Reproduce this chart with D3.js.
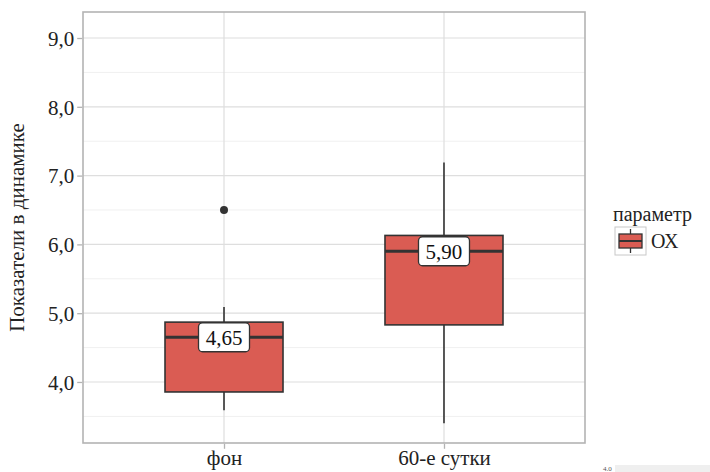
<!DOCTYPE html>
<html><head><meta charset="utf-8">
<script src="https://cdn.jsdelivr.net/npm/d3@7/dist/d3.min.js"></script>
<style>body{margin:0;background:#fff;} svg{display:block;}</style>
</head><body>
<script>
const categories = ["фон", "60-е сутки"];
const lowerWhisker = [3.59, 3.40];
const q1 = [3.855, 4.83];
const medians = [4.65, 5.90];
const q3 = [4.87, 6.13];
const upperWhisker = [5.09, 7.19];
const outliers = [[0, 6.50]];
const medianLabels = ["4,65", "5,90"];
const yTicks = [4, 5, 6, 7, 8, 9];
const yMinor = [3.5, 4.5, 5.5, 6.5, 7.5, 8.5];
const legendTitle = "параметр";
const legendItem = "ОХ";
const yTitle = "Показатели в динамике";

(function () {
// pick an installed serif font if one exists
const candidates = ["Liberation Serif", "Times New Roman", "Tinos", "DejaVu Serif", "Noto Serif", "Times", "FreeSerif", "Nimbus Roman", "Nimbus Roman No9 L"];
const cv = document.createElement("canvas").getContext("2d");
const probe = "Показатели 60-е abcdefgWMi 0123456789";
function w(f) { cv.font = "30px " + f; return cv.measureText(probe).width; }
const baseM = w("monospace"), baseS = w("sans-serif");
let chosen = null;
for (const c of candidates) {
  const a = w(`"${c}", monospace`), b = w(`"${c}", sans-serif`);
  if (a !== baseM && b !== baseS) { chosen = c; break; }
}
const font = chosen ? `"${chosen}", serif` : "serif";

const W = 710, H = 472;
const pL = 83, pR = 585, pT = 12, pB = 443;
const fill = "#da5c53", stroke = "#333333";

const svg = d3.select("body").append("svg").attr("width", W).attr("height", H)
  .style("font-family", font);
const y = d3.scaleLinear().domain([3.113, 9.378]).range([pB, pT]);
const x = d3.scalePoint().domain(categories).range([pL, pR]).padding(0.641);
const boxW = 118;

svg.append("g").selectAll("line").data(yMinor).join("line")
  .attr("x1", pL).attr("x2", pR).attr("y1", d => y(d)).attr("y2", d => y(d))
  .attr("stroke", "#f0f0f0").attr("stroke-width", 1);
svg.append("g").selectAll("line").data(yTicks).join("line")
  .attr("x1", pL).attr("x2", pR).attr("y1", d => y(d)).attr("y2", d => y(d))
  .attr("stroke", "#dedede").attr("stroke-width", 1.2);
svg.append("g").selectAll("line").data(categories).join("line")
  .attr("x1", d => x(d)).attr("x2", d => x(d)).attr("y1", pT).attr("y2", pB)
  .attr("stroke", "#dedede").attr("stroke-width", 1.2);

const data = categories.map((c, i) => ({c, i}));
const g = svg.append("g");
g.selectAll(".wh").data(data).join("line")
  .attr("x1", d => x(d.c)).attr("x2", d => x(d.c))
  .attr("y1", d => y(upperWhisker[d.i])).attr("y2", d => y(lowerWhisker[d.i]))
  .attr("stroke", stroke).attr("stroke-width", 1.6);
g.selectAll(".box").data(data).join("rect")
  .attr("x", d => x(d.c) - boxW / 2).attr("width", boxW)
  .attr("y", d => y(q3[d.i])).attr("height", d => y(q1[d.i]) - y(q3[d.i]))
  .attr("fill", fill).attr("stroke", stroke).attr("stroke-width", 1.6);
g.selectAll(".med").data(data).join("line")
  .attr("x1", d => x(d.c) - boxW / 2).attr("x2", d => x(d.c) + boxW / 2)
  .attr("y1", d => y(medians[d.i])).attr("y2", d => y(medians[d.i]))
  .attr("stroke", stroke).attr("stroke-width", 3.2);
g.selectAll(".out").data(outliers).join("circle")
  .attr("cx", d => x(categories[d[0]])).attr("cy", d => y(d[1])).attr("r", 4)
  .attr("fill", stroke);

const lab = g.selectAll(".lab").data(data).join("g")
  .attr("transform", d => `translate(${x(d.c)},${y(medians[d.i])})`);
lab.append("rect").attr("x", -25.5).attr("y", -14.5).attr("width", 51).attr("height", 29)
  .attr("rx", 4).attr("fill", "#fff").attr("stroke", stroke).attr("stroke-width", 1.3);
lab.append("text").attr("text-anchor", "middle").attr("dy", "0.35em")
  .attr("font-size", 21).attr("fill", "#111")
  .text(d => medianLabels[d.i]);

svg.append("rect").attr("x", pL).attr("y", pT).attr("width", pR - pL).attr("height", pB - pT)
  .attr("fill", "none").attr("stroke", "#b3b3b3").attr("stroke-width", 1.6);

const fmt = d => d3.format(".1f")(d).replace(".", ",");
const ya = svg.append("g").attr("transform", `translate(${pL - 0.8},0)`)
  .call(d3.axisLeft(y).tickValues(yTicks).tickFormat(fmt).tickSize(5).tickPadding(3));
ya.select(".domain").remove();
ya.attr("font-family", font);
ya.selectAll(".tick line").attr("stroke", "#b3b3b3").attr("stroke-width", 1.3);
ya.selectAll(".tick text").attr("font-size", 21).attr("fill", "#222").attr("dy", "0.35em");

const xa = svg.append("g").attr("transform", `translate(0,${pB + 0.8})`)
  .call(d3.axisBottom(x).tickSize(5).tickPadding(4));
xa.select(".domain").remove();
xa.attr("font-family", font);
xa.selectAll(".tick line").attr("stroke", "#b3b3b3").attr("stroke-width", 1.3);
xa.selectAll(".tick text").attr("font-size", 21).attr("fill", "#222").attr("dy", "0.58em");

svg.append("text").attr("transform", `translate(24,${(pT + pB) / 2}) rotate(-90)`)
  .attr("text-anchor", "middle").attr("font-size", 21).attr("fill", "#222")
  .text(yTitle);

svg.append("text").attr("x", 613).attr("y", 221).attr("font-size", 20).attr("fill", "#222").text(legendTitle);
const lg = svg.append("g").attr("transform", "translate(615,227)");
lg.append("rect").attr("width", 31).attr("height", 28).attr("fill", "#fff").attr("stroke", "#c8c8c8").attr("stroke-width", 1);
lg.append("line").attr("x1", 15.5).attr("x2", 15.5).attr("y1", 2).attr("y2", 26).attr("stroke", stroke).attr("stroke-width", 1.3);
lg.append("rect").attr("x", 4).attr("y", 7).attr("width", 23).attr("height", 14).attr("fill", fill).attr("stroke", stroke).attr("stroke-width", 1.3);
lg.append("line").attr("x1", 4).attr("x2", 27).attr("y1", 14).attr("y2", 14).attr("stroke", stroke).attr("stroke-width", 2);
svg.append("text").attr("x", 651).attr("y", 248).attr("font-size", 20).attr("fill", "#222").text(legendItem);

svg.append("rect").attr("x", 615).attr("y", 465).attr("width", 95).attr("height", 7).attr("fill", "#efefef");
svg.append("text").attr("x", 603).attr("y", 471).attr("font-size", 7).attr("fill", "#555").text("4.0");
})();
</script>
</body></html>
